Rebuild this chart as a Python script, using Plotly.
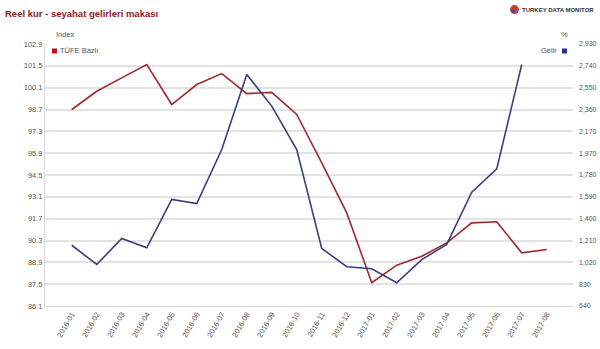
import plotly.graph_objects as go

months = ["2016-01","2016-02","2016-03","2016-04","2016-05","2016-06","2016-07","2016-08",
          "2016-09","2016-10","2016-11","2016-12","2017-01","2017-02","2017-03","2017-04",
          "2017-05","2017-06","2017-07","2017-08"]
tufe = [98.7, 99.87, 100.73, 101.58, 99.02, 100.3, 101.0, 99.72, 99.8, 98.38,
        95.28, 92.07, 87.59, 88.72, 89.29, 90.15, 91.43, 91.5, 89.51, 89.72]
gelir = [1171, 1003, 1230, 1149, 1571, 1536, 2008, 2664, 2387, 2008,
         1143, 983, 965, 843, 1046, 1178, 1635, 1839, 2751, None]
left_ticks = ["86.1","87.5","88.9","90.3","91.7","93.1","94.5","95.9","97.3","98.7","100.1","101.5","102.9"]
right_ticks = ["640","830","1,020","1,210","1,400","1,590","1,780","1,970","2,170","2,360","2,550","2,740","2,930"]

RED = "#9E2A2F"
BLUE = "#3D3D7E"
FONT = "Liberation Sans"

W, H = 600, 349
L, R, T, B = 45, 27, 44, 42.5
pw, ph = W - L - R, H - T - B

def px(x):
    return (x - L) / pw

def py(y):
    return (H - B - y) / ph

fig = go.Figure()
fig.add_trace(go.Scatter(x=months, y=tufe, mode="lines", line=dict(color=RED, width=1.6),
                         name="TÜFE Bazlı", yaxis="y"))
fig.add_trace(go.Scatter(x=months, y=gelir, mode="lines", line=dict(color=BLUE, width=1.6),
                         name="Gelir", yaxis="y2"))

lv = [86.1 + 1.4 * i for i in range(len(left_ticks))]
rv = [640 + (2930 - 640) / 12 * i for i in range(len(right_ticks))]

fig.update_layout(
    width=W, height=H,
    margin=dict(l=L, r=R, t=T, b=B),
    paper_bgcolor="white", plot_bgcolor="white",
    showlegend=False,
    font=dict(family=FONT, size=8, color="#555555"),
    xaxis=dict(type="category", range=[-1.07, 20.05], showgrid=False, tickangle=-60,
               tickfont=dict(size=7.5, color="#555555"), showline=True, linecolor="#d8d8d8",
               linewidth=1, ticks="", automargin=False),
    yaxis=dict(range=[86.1, 102.9], tickvals=lv, ticktext=left_ticks, showgrid=True,
               gridcolor="#e2e2e2", gridwidth=1.5, zeroline=False, showline=True,
               linecolor="#d8d8d8", linewidth=1, ticks="", automargin=False,
               tickfont=dict(size=7.5, color="#555555")),
    yaxis2=dict(range=[640, 2930], tickvals=rv, ticktext=right_ticks, overlaying="y",
                side="right", showgrid=False, zeroline=False, showline=False, ticks="",
                automargin=False, ticklabelstandoff=5, tickfont=dict(size=7, color="#555555")),
)

ann = [
    dict(text="<b>Reel kur - seyahat gelirleri makası</b>", x=px(3), y=py(13), xanchor="left",
         yanchor="middle", font=dict(size=9.5, color="#8E1B1F", family=FONT)),
    dict(text="<b>TURKEY DATA MONITOR</b>", x=px(520), y=py(9.5), xanchor="left",
         yanchor="middle", font=dict(size=6, color="#333333", family=FONT)),
    dict(text="Index", x=px(54), y=py(34), xanchor="left", yanchor="middle",
         font=dict(size=7.5, color="#555555")),
    dict(text="%", x=px(570), y=py(34), xanchor="right", yanchor="middle",
         font=dict(size=7.5, color="#555555")),
    dict(text="TÜFE Bazlı", x=px(58), y=py(51), xanchor="left", yanchor="middle",
         font=dict(size=7.5, color="#555555")),
    dict(text="Gelir", x=px(559), y=py(51), xanchor="right", yanchor="middle",
         font=dict(size=7.5, color="#555555")),
]
for a in ann:
    a.update(xref="paper", yref="paper", showarrow=False)
fig.update_layout(annotations=ann)

shapes = [
    dict(type="rect", x0=px(52), x1=px(57), y0=py(48.5), y1=py(53.5), fillcolor="#C0141B", line_width=0),
    dict(type="rect", x0=px(562), x1=px(567), y0=py(48.5), y1=py(53.5), fillcolor="#2E2E96", line_width=0),
    dict(type="circle", x0=px(510), x1=px(519), y0=py(14), y1=py(5), fillcolor="#D23A2A", line_width=0),
    dict(type="path", path=f"M {px(514.5)},{py(9.5)} L {px(514.5)},{py(14)} L {px(510)},{py(9.5)} Z",
         fillcolor="#2F4FA0", line_width=0),
    dict(type="path", path=f"M {px(514.5)},{py(9.5)} L {px(519)},{py(9.5)} L {px(514.5)},{py(14)} Z",
         fillcolor="#6A5AA8", line_width=0),
]
for s in shapes:
    s.update(xref="paper", yref="paper")
fig.update_layout(shapes=shapes)

fig.write_html("out.html")
